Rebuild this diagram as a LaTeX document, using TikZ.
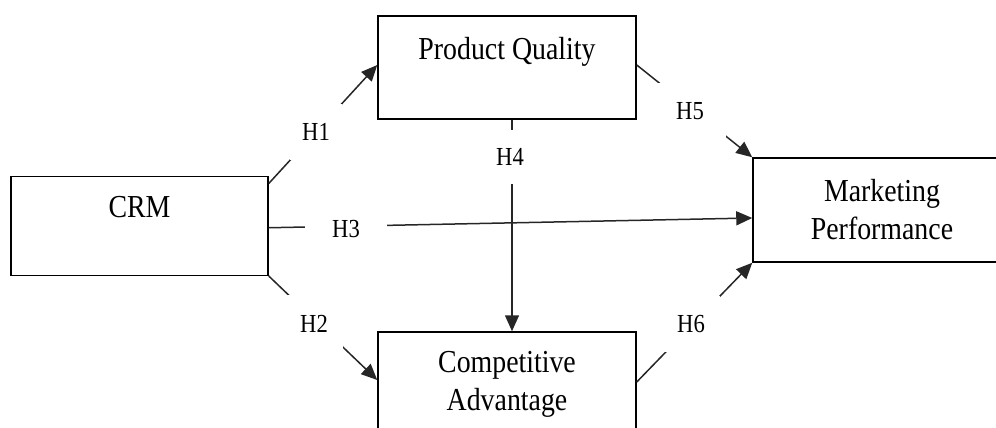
\documentclass[tikz,border=0pt]{standalone}
\usepackage{fontspec}
\setmainfont[FakeStretch=0.87]{Liberation Serif}
\usetikzlibrary{arrows.meta}
\begin{document}
\begin{tikzpicture}[x=1pt,y=-1pt,
  box/.style={draw=black, line width=1.5pt, inner sep=0pt, align=center,
    font=\fontsize{32}{38}\selectfont, minimum width=257pt},
  conn/.style={draw=black!85, line width=1.5pt},
  arr/.style={conn, -{Triangle[length=16pt,width=14pt]}},
  hyp/.style={fill=white, inner sep=0pt, font=\fontsize{26}{30}\selectfont}]
\useasboundingbox (0,0) rectangle (996,428);
\clip (0,0) rectangle (996,428);
% boxes
\node[box, minimum height=99pt] (CRM) at (139.5,225.75) {CRM\\~};
\node[box, minimum height=103pt, minimum width=258pt] (PQ) at (507,67.5) {Product Quality\\~};
\node[box, minimum height=104pt, minimum width=258pt] (CA) at (507,384) {Competitive\\Advantage};
\node[box, minimum height=104pt, minimum width=258pt] (MP) at (882,210) {Marketing\\Performance};
% connectors
\draw[arr] ([yshift=-8pt]CRM.north east) -- ([yshift=2.5pt]PQ.west);
\draw[arr] (CRM.south east) -- ([yshift=4pt]CA.west);
\draw[arr] ([yshift=-2pt]CRM.east) -- ([yshift=-8pt]MP.west);
\draw[arr] ([xshift=5pt]PQ.south) -- ([xshift=5pt]CA.north);
\draw[arr] ([yshift=2.5pt]PQ.east) -- (MP.north west);
\draw[arr] ([yshift=2pt]CA.east) -- (MP.south west);
% labels
\node[hyp, minimum width=52pt, minimum height=56pt] (H1) at (316,132) {H1};
\node[hyp, minimum width=58pt, minimum height=58pt] (H2) at (314,324) {H2};
\node[hyp, minimum width=82pt, minimum height=22pt] (H3) at (346,229.5) {H3};
\node[hyp, minimum width=30pt, minimum height=54pt] (H4) at (510,156.5) {H4};
\node[hyp, minimum width=72pt, minimum height=56pt] (H5) at (690,111) {H5};
\node[hyp, minimum width=58pt, minimum height=56pt] (H6) at (691,324) {H6};
\end{tikzpicture}
\end{document}
